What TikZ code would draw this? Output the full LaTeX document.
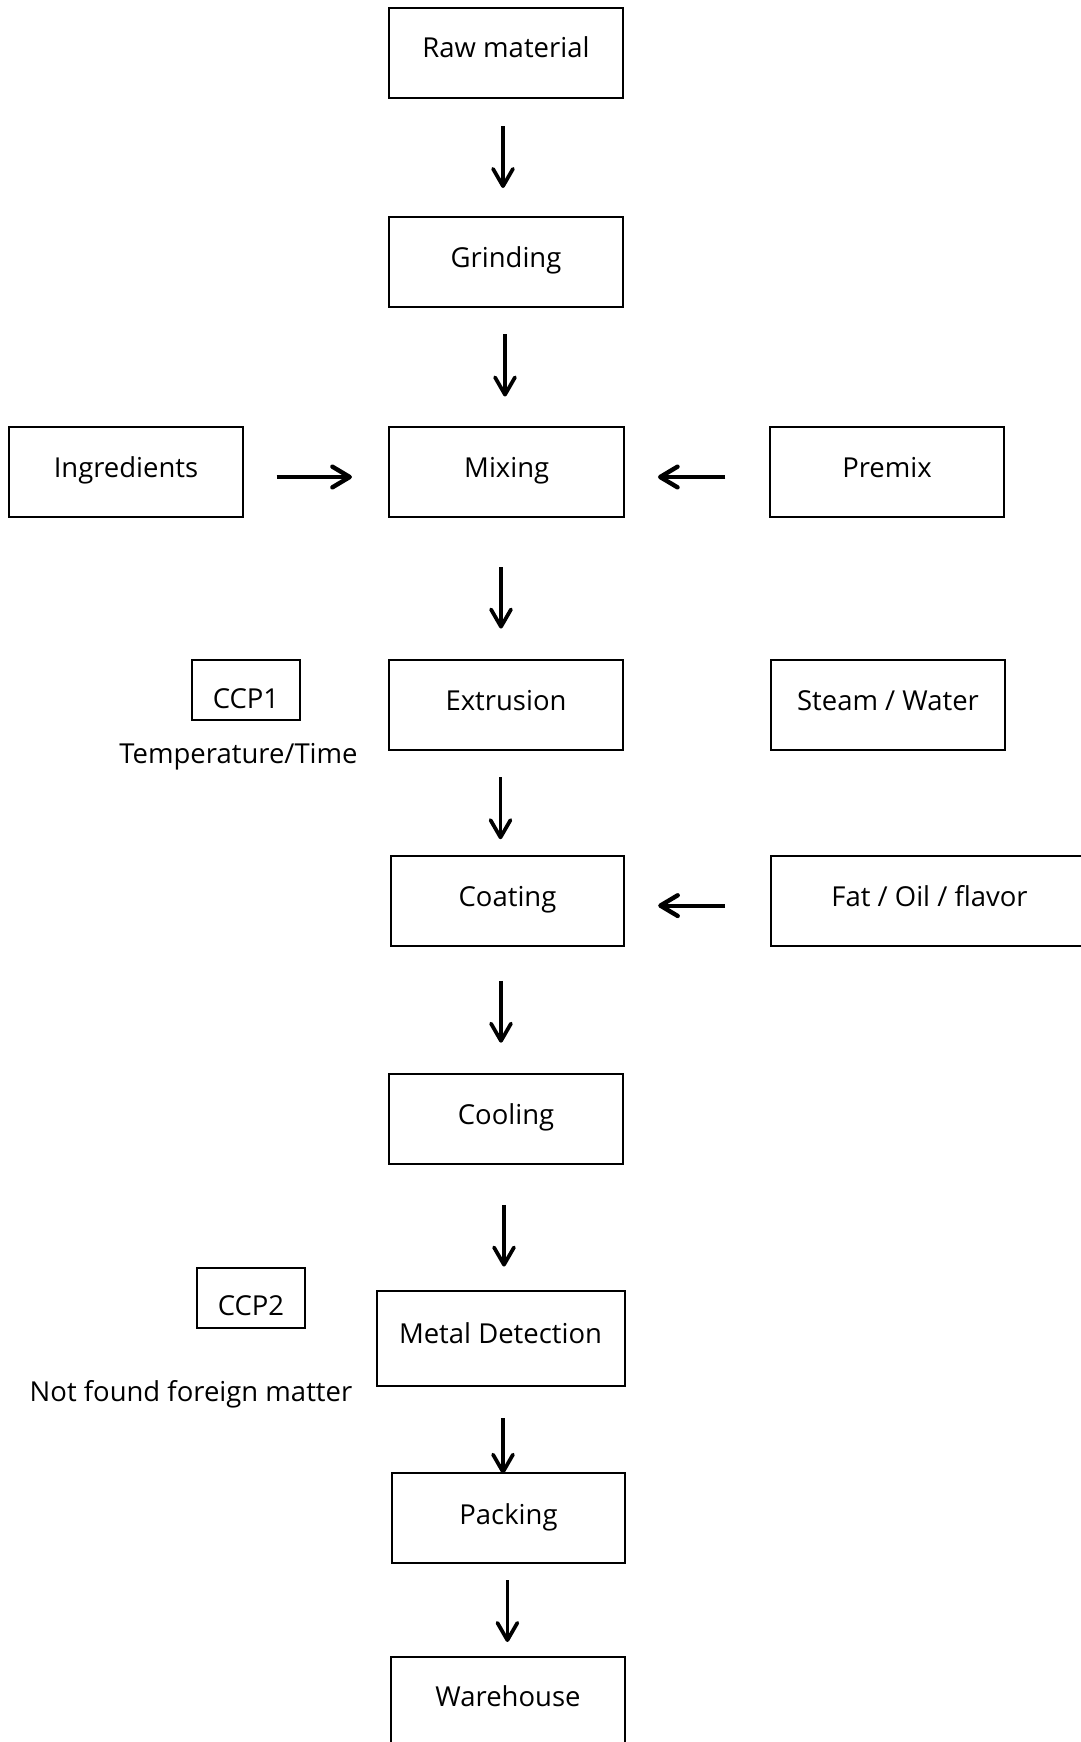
\documentclass[tikz,border=0pt]{standalone}
\usepackage{fontspec}
\setmainfont{Open Sans}
\usetikzlibrary{arrows.meta,calc}
\begin{document}
\begin{tikzpicture}[x=0.75pt,y=-0.75pt,
  box/.style={draw, line width=1.5pt, rectangle, inner sep=0pt, minimum width=175pt, minimum height=67.5pt},
  smallbox/.style={draw, line width=1.5pt, rectangle, inner sep=0pt, minimum width=81pt, minimum height=45pt},
  txt/.style={font=\fontsize{20.6pt}{24pt}\selectfont, inner sep=0pt, anchor=base},
  arr/.style={line width=2.3pt, -{Straight Barb[length=13pt,width=15pt,line width=2.8pt,round]}},
  harr/.style={line width=3pt, -{Straight Barb[length=13pt,width=15.5pt,line width=3.3pt,round]}}]
\useasboundingbox (0,0) rectangle (1081,1742);
\clip (0,0) rectangle (1081,1742);
% boxes
\node[box] (raw) at (506,53) {};
\node[box] (grind) at (506,262) {};
\node[box, minimum width=175.9pt] (mix) at (506.7,472) {};
\node[box] (ingr) at (126,472) {};
\node[box] (premix) at (887,472) {};
\node[smallbox] (ccp1) at (246,690) {};
\node[box] (extr) at (506,705) {};
\node[box] (steam) at (888,705) {};
\node[box, minimum height=67.9pt] (coat) at (507.5,901) {};
\node[box, minimum width=237pt, minimum height=67.9pt] (fat) at (929,901) {};
\node[box, minimum height=67.9pt] (cool) at (506,1119) {};
\node[smallbox] (ccp2) at (251,1298) {};
\node[box, minimum width=186pt, minimum height=71.6pt] (metal) at (500.5,1338.7) {};
\node[box, minimum height=67.9pt] (pack) at (508.5,1518) {};
\node[box] (ware) at (508,1702) {};
% texts
\node[txt] (rawt) at ($(raw.center)+(0,4)$) {Raw material};
\node[txt] (grindt) at ($(grind.center)+(0,5)$) {Grinding};
\node[txt] (mixt) at ($(mix.center)+(0,5)$) {Mixing};
\node[txt] (ingrt) at ($(ingr.center)+(0,5)$) {Ingredients};
\node[txt] (premixt) at ($(premix.center)+(0,5)$) {Premix};
\node[txt] (ccp1t) at ($(ccp1.center)+(0,18)$) {CCP1};
\node[txt] (extrt) at ($(extr.center)+(0,5.4)$) {Extrusion};
\node[txt] (steamt) at ($(steam.center)+(0,5.4)$) {Steam / Water};
\node[txt] (coatt) at ($(coat.center)+(0,5)$) {Coating};
\node[txt] (fatt) at ($(fat.center)+(0.5,5)$) {Fat / Oil / flavor};
\node[txt] (coolt) at ($(cool.center)+(0,5.5)$) {Cooling};
\node[txt] (ccp2t) at ($(ccp2.center)+(0,17)$) {CCP2};
\node[txt] (metalt) at ($(metal.center)+(0,4.5)$) {Metal Detection};
\node[txt] (packt) at ($(pack.center)+(0,6)$) {Packing};
\node[txt] (waret) at ($(ware.center)+(0,4.5)$) {Warehouse};
\node[txt] (temp) at (238.5,763) {Temperature/Time};
\node[txt] (notf) at (191,1401) {Not found foreign matter};
% arrows
\draw[arr] ($(raw.south)+(-3,27)$) -- ($(grind.north)+(-3,-28)$);
\draw[arr] ($(grind.south)+(-1,26)$) -- ($(mix.north)+(-1.7,-29.5)$);
\draw[arr] ($(mix.south)+(-5.7,49)$) -- ($(extr.north)+(-5,-30.4)$);
\draw[arr] ($(extr.south)+(-5.5,26)$) -- ($(coat.north)+(-7,-15.5)$);
\draw[arr] ($(coat.south)+(-6.5,33.5)$) -- ($(cool.north)+(-5,-30)$);
\draw[arr] ($(cool.south)+(-2,39.5)$) -- ($(metal.north)+(3.5,-23.4)$);
\draw[arr] ($(metal.south)+(2.5,30.6)$) -- ($(pack.north)+(-5.5,2)$);
\draw[arr] ($(pack.south)+(-1.1,16)$) -- ($(ware.north)+(-0.6,-14)$);
\draw[harr] ($(ingr.east)+(33,5)$) -- ($(mix.west)+(-36.5,5)$);
\draw[harr] ($(premix.west)+(-44,5)$) -- ($(mix.east)+(33,5)$);
\draw[harr] ($(fat.west)+(-45,4.6)$) -- ($(coat.east)+(33,4.6)$);
\end{tikzpicture}
\end{document}
